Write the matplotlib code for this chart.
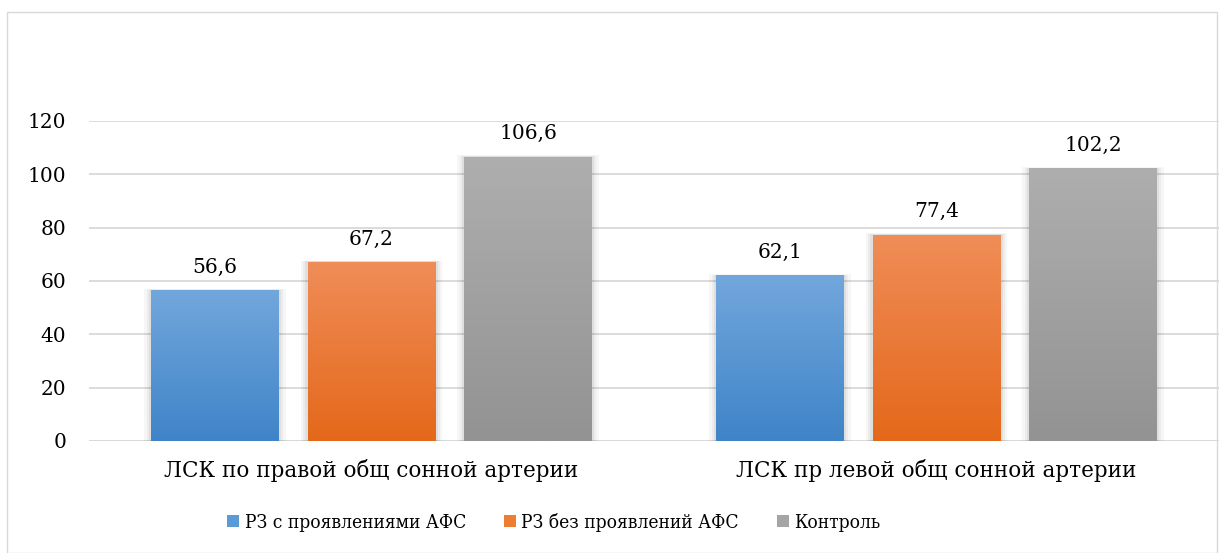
import numpy as np
import matplotlib
matplotlib.use("Agg")
import matplotlib.pyplot as plt
from matplotlib.patches import Rectangle, Patch
from matplotlib.colors import LinearSegmentedColormap
from matplotlib import font_manager

categories = ["ЛСК по правой общ сонной артерии", "ЛСК пр левой общ сонной артерии"]
series_names = ["РЗ с проявлениями АФС", "РЗ без проявлений АФС", "Контроль"]
values_afs = [56.6, 62.1]
values_no_afs = [67.2, 77.4]
values_control = [106.6, 102.2]
value_labels = [["56,6", "62,1"], ["67,2", "77,4"], ["106,6", "102,2"]]
yticks = [0, 20, 40, 60, 80, 100, 120]

series = [values_afs, values_no_afs, values_control]
grad = [("#72a7dc", "#3f84c8"), ("#f08d58", "#e4681a"), ("#aeaeae", "#939393")]
legend_colors = ["#5b9bd5", "#ed7d31", "#a5a5a5"]

plt.rcParams['font.family'] = ['DejaVu Serif']

# use condensed DejaVu Serif for the legend if installed
cond = [f for f in font_manager.fontManager.ttflist
        if f.name == 'DejaVu Serif' and 'Condensed' in f.fname and f.weight in (400, 'normal')
        and f.style == 'normal']
if cond:
    legend_prop = font_manager.FontProperties(fname=cond[0].fname, size=13.8)
else:
    legend_prop = font_manager.FontProperties(family=['Liberation Serif'], size=15)

fig = plt.figure(figsize=(12.19, 5.53), dpi=100)
W, H = 1219, 553
# outer chart border
fig.patches.append(Rectangle((7 / W, 0), (1217 - 7) / W, (553 - 12) / H, transform=fig.transFigure,
                             fill=False, edgecolor="#d9d9d9", linewidth=1))

ax = fig.add_axes([89 / W, (553 - 441) / H, (1219 - 89) / W, (441 - 121) / H])
ax.set_xlim(0, 2)
ax.set_ylim(0, 120)
for s in ax.spines.values():
    s.set_visible(False)
ax.set_yticks(yticks)
ax.set_yticklabels([str(t) for t in yticks], fontsize=14.5)
ax.tick_params(axis='y', length=0, pad=16.5)
ax.set_xticks([0.5, 1.5])
ax.set_xticklabels(categories, fontsize=15.5)
ax.tick_params(axis='x', length=0, pad=13)
ax.grid(axis='y', color="#d9d9d9", linewidth=1.3)
ax.set_axisbelow(True)

bw = 0.226
step = 0.277
offsets = [-step, 0, step]
for i, vals in enumerate(series):
    c_top, c_bot = grad[i]
    cmap = LinearSegmentedColormap.from_list("g%d" % i, [c_bot, c_top])
    for j, v in enumerate(vals):
        x0 = j + 0.5 + offsets[i] - bw / 2
        # soft shadow
        for k, a in enumerate([0.035, 0.04, 0.05]):
            d = 0.004 * (3 - k)
            ax.add_patch(Rectangle((x0 - d, 0), bw + 2 * d, v + d * 40, facecolor="#000000",
                                   alpha=a, edgecolor="none", zorder=2))
        rect = Rectangle((x0, 0), bw, v, facecolor="none", edgecolor="none", zorder=3)
        ax.add_patch(rect)
        g = np.linspace(0, 1, 256).reshape(-1, 1)
        im = ax.imshow(g, cmap=cmap, origin="lower", extent=[x0, x0 + bw, 0, v],
                       aspect="auto", zorder=3)
        im.set_clip_path(rect)
        ax.text(x0 + bw / 2, v + 5, value_labels[i][j], ha="center", va="bottom", fontsize=14.5, zorder=4)

ax.axhline(0, color="#d9d9d9", linewidth=1.3, zorder=1)
ax.set_ylim(0, 120)
ax.set_xlim(0, 2)

handles = [Patch(facecolor=c, edgecolor="none") for c in legend_colors]
fig.legend(handles, series_names, loc="center", bbox_to_anchor=(554 / W, 1 - 522 / H), ncol=3,
           frameon=False, prop=legend_prop,
           handlelength=0.6, handleheight=0.6, handletextpad=0.3, columnspacing=2.0)

fig.savefig("out.png", dpi=100)
